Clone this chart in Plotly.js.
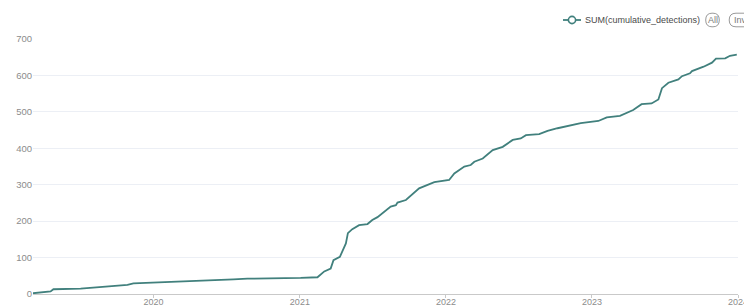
<!DOCTYPE html>
<html>
<head>
<meta charset="utf-8">
<script src="https://cdn.plot.ly/plotly-3.0.1.min.js"></script>
<style>html,body{margin:0;padding:0;background:#fff;}#chart{width:744px;height:308px;}</style>
</head>
<body>
<div id="chart"></div>
<script>
const dates = [
  "2019-03-06","2019-04-19","2019-04-26","2019-07-03","2019-10-28","2019-11-12",
  "2020-07-19","2020-08-23","2021-01-03","2021-02-14","2021-03-03","2021-03-19",
  "2021-03-26","2021-04-11","2021-04-26","2021-05-01","2021-05-12","2021-05-29",
  "2021-06-19","2021-07-01","2021-07-14","2021-08-16","2021-08-29","2021-09-02",
  "2021-09-23","2021-10-05","2021-10-26","2021-12-03","2022-01-09","2022-01-22",
  "2022-02-16","2022-03-04","2022-03-13","2022-04-03","2022-04-28","2022-05-23",
  "2022-06-17","2022-07-07","2022-07-20","2022-08-22","2022-09-12","2022-10-07",
  "2022-11-09","2022-12-04","2023-01-17","2023-02-07","2023-03-12","2023-04-14",
  "2023-05-05","2023-05-30","2023-06-16","2023-06-25","2023-07-11","2023-08-05",
  "2023-08-14","2023-09-03","2023-09-08","2023-10-07","2023-10-28","2023-11-07",
  "2023-11-30","2023-12-12","2023-12-29"
];
const cumulativeDetections = [
  2,7,13,15,25,29,
  40,42,44,46,62,70,
  93,102,139,167,178,189,
  192,203,211,240,244,251,
  258,269,290,307,313,331,
  350,354,363,372,395,404,
  423,427,436,439,448,455,
  462,469,475,485,489,505,
  521,523,534,565,580,589,
  598,606,612,624,635,646,
  647,654,657
];
const seriesName = "SUM(cumulative_detections)";
const yTicks = [0,100,200,300,400,500,600,700];
const xTicks = ["2020-01-01","2021-01-01","2022-01-01","2023-01-01","2024-01-01"];
const xTickLabels = ["2020","2021","2022","2023","2024"];
const lineColor = "#41807d";

const traces = [{
  x: dates, y: cumulativeDetections, type: "scatter", mode: "lines",
  line: {color: lineColor, width: 1.8}, name: seriesName, showlegend: false,
  hoverinfo: "x+y"
}];

const W = 705, H = 255, L = 33, T = 39;
const px = v => (v - L) / W;
const py = v => (T + H - v) / H;

const layout = {
  width: 744, height: 308,
  margin: {l: 33, r: 6, t: 39, b: 14},
  paper_bgcolor: "#fff", plot_bgcolor: "#fff",
  font: {family: "Liberation Sans, Arial, sans-serif", color: "#8c8c8c", size: 9},
  showlegend: false,
  xaxis: {
    type: "date", range: ["2019-03-06", "2024-01-01"],
    tickvals: xTicks, ticktext: xTickLabels,
    showgrid: false, zeroline: false,
    showline: true, linecolor: "#c9c9c9", linewidth: 1.2,
    ticks: "outside", ticklen: 3, tickcolor: "#c9c9c9",
    ticklabelstandoff: -4, ticklabeloverflow: "allow",
    tickfont: {size: 9, color: "#8c8c8c"}
  },
  yaxis: {
    range: [0, 700], tickvals: yTicks,
    showgrid: true, gridcolor: "#eceff5", gridwidth: 1,
    zeroline: false, showline: false, ticks: "",
    tickfont: {size: 9.5, color: "#8c8c8c"}
  },
  shapes: [
    {type: "line", xref: "paper", yref: "paper", x0: px(563), x1: px(581), y0: py(20), y1: py(20),
     line: {color: lineColor, width: 1.8}},
    {type: "circle", xref: "paper", yref: "paper", xsizemode: "pixel", ysizemode: "pixel",
     xanchor: px(572), yanchor: py(20), x0: -3.6, x1: 3.6, y0: -3.6, y1: 3.6,
     fillcolor: "#fff", line: {color: lineColor, width: 1.6}},
    {type: "path", xref: "paper", yref: "paper", xsizemode: "pixel", ysizemode: "pixel",
     xanchor: px(712.5), yanchor: py(20),
     path: "M -0.5 -6.8 L 0.5 -6.8 Q 6.8 -6.8 6.8 0 Q 6.8 6.8 0.5 6.8 L -0.5 6.8 Q -6.8 6.8 -6.8 0 Q -6.8 -6.8 -0.5 -6.8 Z",
     fillcolor: "rgba(0,0,0,0)", line: {color: "#9a9a9a", width: 1}},
    {type: "path", xref: "paper", yref: "paper", xsizemode: "pixel", ysizemode: "pixel",
     xanchor: px(740), yanchor: py(20),
     path: "M -4 -6.8 L 4 -6.8 Q 10.8 -6.8 10.8 0 Q 10.8 6.8 4 6.8 L -4 6.8 Q -10.8 6.8 -10.8 0 Q -10.8 -6.8 -4 -6.8 Z",
     fillcolor: "rgba(0,0,0,0)", line: {color: "#9a9a9a", width: 1}}
  ],
  annotations: [
    {xref: "paper", yref: "paper", x: px(583), y: py(20), xanchor: "left", yanchor: "middle",
     text: seriesName, showarrow: false, font: {size: 9, color: "#4a4a4a"}},
    {xref: "paper", yref: "paper", x: px(712.5), y: py(20), xanchor: "center", yanchor: "middle",
     text: "All", showarrow: false, font: {size: 9, color: "#7a7a7a"}},
    {xref: "paper", yref: "paper", x: px(732), y: py(20), xanchor: "left", yanchor: "middle",
     text: "Inv", showarrow: false, font: {size: 9, color: "#7a7a7a"}}
  ]
};

Plotly.newPlot("chart", traces, layout, {displayModeBar: false, responsive: false, staticPlot: true});
</script>
</body>
</html>
